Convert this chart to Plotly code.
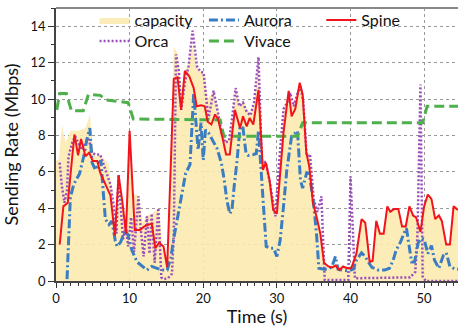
import plotly.graph_objects as go

# ---- data ----
cap_t = [0.0, 0.4, 0.8, 1.3, 2.0, 3.0, 4.0, 4.6, 5.0, 5.4, 6.0, 6.9, 7.1, 7.5, 8.0, 8.5, 9.0, 9.5, 10.0, 10.5,
         11.2, 11.8, 12.3, 13.0, 13.9, 14.5, 15.1, 15.5, 16.0, 16.5, 17.0, 17.5, 18.0, 18.5, 19.1, 19.6, 20.1,
         20.6, 21.4, 22.1, 22.6, 23.0, 23.5, 24.0, 24.4, 25.0, 25.4, 26.0, 26.5, 27.0, 27.5, 28.0, 28.5, 29.0,
         29.5, 29.9, 30.4, 30.9, 31.6, 32.0, 32.6, 33.1, 33.6, 34.0, 34.5, 35.0, 35.5, 35.9, 36.4, 37.0, 38.0,
         39.0, 40.1, 40.8, 41.5, 42.0, 42.6, 43.0, 43.5, 44.0, 44.5, 45.0, 45.4, 45.9, 46.5, 47.0, 47.5, 48.0,
         48.5, 48.9, 49.5, 50.0, 50.5, 51.0, 51.5, 52.0, 52.4, 53.0, 53.5, 54.0, 54.6]
cap_v = [6.6, 6.7, 8.6, 7.6, 8.25, 8.25, 8.4, 9.15, 7.2, 6.85, 6.9, 6.6, 6.5, 5.2, 3.0, 5.9, 4.5, 3.0, 8.3, 4.8,
         4.7, 3.2, 3.6, 3.7, 4.0, 2.0, 1.0, 6.0, 12.9, 12.5, 10.5, 11.5, 12.0, 13.0, 11.8, 11.5, 11.4,
         10.0, 10.4, 9.2, 8.2, 7.7, 7.8, 8.9, 10.5, 9.6, 9.9, 9.4, 9.2, 10.0, 12.0, 6.7, 6.6, 5.6,
         4.5, 3.8, 6.4, 9.4, 10.5, 9.6, 10.0, 10.9, 10.3, 7.0, 7.0, 4.5, 3.7, 2.8, 1.0, 0.8, 0.9,
         0.8, 0.8, 1.6, 3.5, 3.3, 1.2, 1.2, 3.4, 2.7, 2.7, 4.2, 3.9, 4.0, 4.0, 3.1, 3.1, 4.2,
         3.7, 3.6, 2.8, 4.2, 4.8, 4.6, 3.5, 3.7, 3.4, 2.1, 2.1, 4.2, 4.0]

orca_t = [0.5, 0.8, 1.15, 1.5, 1.7, 2.2, 2.6, 3.5, 4.0, 4.45, 4.9, 5.35, 6.0, 6.9, 7.4, 7.85, 8.2, 8.5, 8.8,
          9.1, 9.5, 9.8, 10.2, 10.6, 11.2, 11.5, 11.9, 12.35, 12.7, 13.0, 13.4, 13.9, 14.3, 14.6, 15.2, 15.75,
          16.0, 16.3, 16.7, 17.0, 17.5, 18.0, 18.55, 19.15, 19.6, 20.05, 20.7, 21.4, 22.1, 22.5, 23.0, 23.5,
          23.9, 24.4, 24.9, 25.4, 25.9, 26.4, 26.9, 27.2, 27.5, 27.95, 28.5, 29.0, 29.4, 29.8, 30.3, 30.9,
          31.4, 31.8, 32.3, 32.7, 33.2, 33.6, 34.05, 34.5, 35.0, 35.5, 36.05, 36.5, 39.7, 40.0, 40.6, 48.1,
          48.8, 49.1, 49.5, 49.8, 50.2, 54.6]
orca_v = [6.5, 5.2, 4.3, 5.0, 6.85, 7.6, 7.95, 7.2, 7.6, 7.8, 7.05, 6.95, 6.95, 5.95, 5.3, 4.1, 2.6, 5.85, 3.9,
          2.3, 3.0, 1.9, 3.5, 1.6, 4.65, 2.9, 1.35, 3.55, 1.5, 3.7, 1.0, 4.0, 0.2, 0.1, 0.15, 0.4,
          2.6, 12.45, 11.5, 9.4, 10.9, 11.8, 13.75, 11.8, 11.5, 11.45, 8.9, 10.45, 9.05, 8.15, 7.6, 7.7,
          8.9, 10.6, 9.6, 9.8, 9.3, 9.1, 9.8, 11.0, 12.3, 6.65, 6.5, 5.5, 4.5, 3.55, 6.5, 9.45,
          9.8, 10.35, 9.6, 10.2, 10.7, 9.8, 6.85, 6.95, 4.5, 3.8, 4.65, 0.05, 0.05, 5.75, 0.15, 0.2,
          0.5, 2.6, 10.8, 0.25, 0.0, 0.0]

aurora_t = [1.5, 1.95, 2.4, 3.2, 3.8, 4.2, 4.6, 4.9, 5.35, 5.8, 6.1, 6.4, 6.7, 7.2, 7.6, 8.05, 8.3, 8.8, 9.4,
            9.8, 10.3, 11.0, 11.7, 12.35, 13.0, 13.7, 14.4, 15.1, 15.6, 16.0, 16.6, 17.1, 17.6, 18.2, 18.7,
            19.3, 19.7, 20.0, 20.3, 20.7, 21.4, 21.85, 22.2, 22.5, 22.85, 23.2, 23.6, 23.9, 24.2, 24.6, 25.0,
            25.4, 25.8, 26.1, 26.8, 27.2, 27.5, 27.95, 28.55, 29.1, 29.55, 30.0, 30.45, 30.9, 31.35, 32.0,
            32.8, 33.2, 33.5, 34.05, 34.4, 34.95, 35.4, 35.7, 36.4, 37.0, 37.5, 37.95, 38.3, 39.0, 39.7, 40.4,
            40.8, 41.5, 42.0, 42.4, 42.9, 43.75, 44.65, 45.3, 45.8, 46.2, 46.8, 47.35, 47.6, 48.05, 48.3,
            48.7, 49.2, 49.6, 50.0, 50.5, 51.0, 51.4, 52.0, 52.6, 53.0, 53.5, 54.2, 54.6]
aurora_v = [0.1, 4.6, 5.3, 5.9, 6.9, 7.8, 8.4, 6.5, 6.1, 6.5, 6.6, 5.0, 3.4, 3.1, 3.3, 2.2, 1.9, 2.15, 2.8,
            2.5, 1.7, 1.05, 0.8, 0.6, 0.8, 0.7, 0.6, 0.6, 1.3, 2.35, 3.7, 4.6, 5.9, 6.4, 10.3,
            7.2, 8.7, 6.65, 8.3, 8.15, 7.6, 7.3, 6.85, 6.4, 5.55, 4.45, 3.7, 3.9, 5.2, 6.65, 8.5,
            8.4, 7.05, 6.9, 6.95, 7.0, 8.25, 5.55, 1.9, 1.8, 1.8, 1.35, 2.25, 4.1, 6.1, 7.95,
            8.25, 5.55, 5.1, 5.95, 5.9, 4.4, 2.5, 0.7, 0.65, 0.65, 0.8, 1.35, 0.65, 0.6, 0.55, 0.65,
            1.15, 1.55, 1.35, 1.05, 0.75, 0.6, 0.6, 0.7, 1.15, 1.7, 2.15, 2.7, 2.9, 1.7, 1.05,
            1.05, 2.1, 2.35, 2.3, 1.5, 1.95, 1.15, 0.7, 1.4, 1.55, 0.8, 0.65, 0.65]

vivace_t = [0.1, 0.5, 1.4, 2.1, 3.7, 4.4, 6.0, 6.8, 9.8, 10.5, 22.3, 22.8, 32.8, 33.5, 49.8, 50.4, 54.6]
vivace_v = [9.4, 10.3, 10.3, 9.35, 9.35, 10.25, 10.2, 9.95, 9.8, 8.9, 8.85, 7.95, 7.95, 8.7, 8.7, 9.6, 9.6]

spine_t = [0.5, 1.0, 1.6, 2.5, 3.0, 3.4, 4.0, 4.5, 5.0, 5.6, 6.0, 7.4, 8.0, 8.5, 9.0, 9.5, 10.0, 10.7, 11.4,
           12.0, 13.0, 13.5, 14.0, 14.6, 15.1, 16.0, 16.5, 17.0, 17.5, 18.1, 18.7, 19.1, 19.7, 20.2, 20.6,
           21.1, 21.6, 22.0, 22.6, 23.1, 23.6, 24.3, 25.0, 25.4, 25.9, 26.3, 26.8, 27.5, 28.1, 28.5, 29.0,
           29.5, 30.0, 30.5, 30.9, 31.6, 32.0, 32.5, 33.1, 33.5, 34.0, 34.4, 34.9, 35.4, 35.9, 36.4, 37.0,
           37.5, 38.0, 38.5, 39.0, 39.5, 40.1, 40.8, 41.5, 42.0, 42.6, 43.0, 43.5, 44.0, 44.5, 45.0, 45.4,
           45.9, 46.5, 47.0, 47.5, 48.0, 48.5, 48.9, 49.5, 50.0, 50.5, 51.0, 51.5, 52.0, 52.4, 53.0, 53.5,
           54.0, 54.6]
spine_v = [2.0, 4.1, 4.3, 8.05, 6.9, 7.8, 6.85, 7.05, 6.6, 6.6, 5.95, 4.7, 2.5, 5.8, 4.4, 2.6, 8.25, 2.8, 2.8,
           3.0, 3.15, 1.8, 2.1, 1.9, 0.75, 11.1, 11.2, 9.4, 11.55, 11.25, 10.6, 9.6, 9.65, 9.6, 8.75,
           8.6, 9.15, 8.9, 7.9, 6.95, 6.95, 9.4, 8.4, 9.05, 8.5, 8.95, 8.6, 10.5, 6.1, 6.5, 5.55,
           3.9, 3.7, 6.3, 8.15, 10.45, 9.05, 9.45, 10.9, 10.25, 7.05, 6.3, 4.3, 3.5, 2.6, 1.0, 0.8,
           0.75, 0.85, 0.6, 0.8, 0.7, 0.7, 1.5, 3.4, 3.2, 1.05, 1.1, 3.3, 2.6, 2.6, 4.1, 3.8,
           3.95, 3.95, 3.0, 3.0, 4.1, 3.6, 3.5, 2.7, 4.1, 4.75, 4.5, 3.4, 3.6, 3.3, 2.0, 2.0,
           4.1, 3.9]

x_ticks = [0, 10, 20, 30, 40, 50]
y_ticks = [0, 2, 4, 6, 8, 10, 12, 14]

FONT = "Lato, 'Open Sans', sans-serif"

fig = go.Figure()
fig.add_trace(go.Scatter(x=cap_t, y=cap_v, name="capacity", mode="lines", fill="tozeroy",
                         fillcolor="rgba(252,234,176,0.9)", line=dict(width=0, color="rgba(252,234,176,0.9)"),
                         legend="legend", showlegend=True))
fig.add_trace(go.Scatter(x=orca_t, y=orca_v, name="Orca", mode="lines",
                         line=dict(color="#9B4DBA", width=2.5, dash="2px,2px"), legend="legend2"))
fig.add_trace(go.Scatter(x=aurora_t, y=aurora_v, name="Aurora", mode="lines",
                         line=dict(color="#3A7DC2", width=3, dash="9px,3px,2px,3px"), legend="legend3"))
fig.add_trace(go.Scatter(x=vivace_t, y=vivace_v, name="Vivace", mode="lines",
                         line=dict(color="#4DB04A", width=3, dash="10px,5px"), legend="legend4"))
fig.add_trace(go.Scatter(x=spine_t, y=spine_v, name="Spine", mode="lines",
                         line=dict(color="#F2141C", width=2), legend="legend5"))

leg_common = dict(bgcolor="rgba(0,0,0,0)", borderwidth=0, font=dict(family=FONT, size=16, color="#111"),
                  yanchor="middle", xanchor="left", itemwidth=30)
ROW1, ROW2 = 0.956, 0.879
COL1, COL2, COL3 = 0.096, 0.368, 0.660

fig.update_layout(
    width=458, height=327,
    showlegend=True,
    margin=dict(l=56, r=0, t=8, b=46),
    paper_bgcolor="white", plot_bgcolor="white",
    font=dict(family=FONT, size=13, color="#111"),
    legend=dict(x=COL1, y=ROW1, **leg_common),
    legend2=dict(x=COL1, y=ROW2, **leg_common),
    legend3=dict(x=COL2, y=ROW1, **leg_common),
    legend4=dict(x=COL2, y=ROW2, **leg_common),
    legend5=dict(x=COL3, y=ROW1, **leg_common),
    xaxis=dict(range=[0, 54.6], tickvals=x_ticks, ticks="outside", ticklen=5, tickwidth=1.2,
               tickcolor="#333", showline=True, linecolor="#444", linewidth=1.5,
               showgrid=True, gridcolor="#999", gridwidth=1, griddash="dot", zeroline=False,
               minor=dict(dtick=1, ticks="outside", ticklen=3, tickcolor="#333", showgrid=False),
               title=dict(text="Time (s)", font=dict(size=18), standoff=4),
               tickfont=dict(size=13)),
    yaxis=dict(range=[0, 15], tickvals=y_ticks, ticks="outside", ticklen=6, tickwidth=1.2,
               tickcolor="#333", showline=True, linecolor="#444", linewidth=1.5,
               showgrid=True, gridcolor="#999", gridwidth=1, griddash="dot", zeroline=False,
               minor=dict(dtick=1, ticks="outside", ticklen=3, tickcolor="#333", showgrid=False),
               title=dict(text="Sending Rate (Mbps)", font=dict(size=18), standoff=8),
               tickfont=dict(size=13)),
    shapes=[dict(type="line", xref="paper", yref="paper", x0=0, x1=1, y0=1, y1=1,
                 line=dict(color="#888", width=2))],
)

fig.write_html("out.html")
